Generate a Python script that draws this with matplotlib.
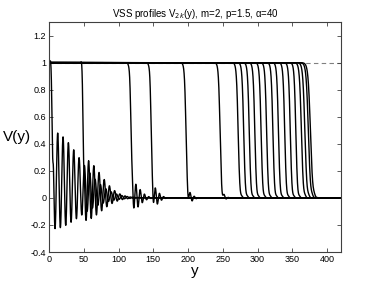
import matplotlib
matplotlib.use("Agg")
import matplotlib.pyplot as plt
import numpy as np

plt.rcParams['font.family'] = ['Liberation Sans', 'DejaVu Sans']
plt.rcParams['axes.unicode_minus'] = False

# front positions (where V crosses 0.5)
fronts = [4.5, 49, 118, 147, 197, 246, 272, 280, 288, 296, 305, 313,
          322, 330, 339, 347, 355, 363, 368, 373, 376]
# steepness of each front
widths = [1.3, 1.3, 2.0, 2.0, 2.2, 2.3] + [2.4] * 11 + [2.8, 3.0, 3.2, 3.4]
# ripple behind each front: envelope, offset, first peak, period, decay length
ripple_amp = [0.36, 0.23, 0.11, 0.085, 0.05, 0.03] + [0.012] * 15
ripple_off = [0.36, 0.26, 0.10, 0.07, 0.0, 0.1] + [0.0] * 15
ripple_peak = [8, 8, 7, 6, 6, 6] + [6] * 15
ripple_period = [7.7, 7.5, 6.2, 6.0, 6.0, 6.0] + [6.0] * 15
ripple_decay = [55, 35, 16, 12, 10, 8] + [6] * 15
# small overshoot just before the drop
bump = [0.04, 0.03, 0.01, 0.01, 0, 0] + [0] * 15

xticks = [0, 50, 100, 150, 200, 250, 300, 350, 400]
yticks = [-0.4, -0.2, 0, 0.2, 0.4, 0.6, 0.8, 1, 1.2]

y = np.linspace(0, 420, 4201)

fig = plt.figure(figsize=(3.77, 2.83), dpi=100)
ax = fig.add_axes([0.130, 0.1095, 0.7745, 0.8125])

# dashed reference level
ax.axhline(1, color='0.5', lw=0.8, dashes=(4, 3), zorder=1)

for i in range(len(fronts)):
    s = y - fronts[i]
    front = 0.5 * (1 - np.tanh(s / widths[i]))
    onset = 0.5 * (1 + np.tanh((s - 1.5) / 0.8))
    env = ripple_amp[i] * np.exp(-(s / ripple_decay[i]) ** 2)
    wave = ripple_off[i] + np.cos(2 * np.pi * (s - ripple_peak[i]) / ripple_period[i])
    v = front + onset * env * wave + bump[i] * np.exp(-((s + 2) / 1.2) ** 2)
    ax.plot(y, v, color='k', lw=1.0, zorder=2)

ax.set_xlim(0, 420)
ax.set_ylim(-0.4, 1.3)
ax.set_xticks(xticks)
ax.set_yticks(yticks)
ax.set_xticklabels([f'{t:g}' for t in xticks])
ax.set_yticklabels([f'{t:g}' for t in yticks])
ax.tick_params(direction='in', length=3, width=0.6, labelsize=6.5,
               top=True, right=True, pad=2, color='0.25')
for sp in ax.spines.values():
    sp.set_color('0.25')
    sp.set_linewidth(0.8)

ax.set_title('VSS profiles V$_{2k}$(y), m=2, p=1.5, α=40', fontsize=7, pad=4)
ax.set_xlabel('y', fontsize=11, labelpad=0)
ax.set_ylabel('V(y)', fontsize=11, rotation=0, ha='center', va='center')
ax.yaxis.set_label_coords(-0.11, 0.5)

fig.savefig('out.png', dpi=100)
